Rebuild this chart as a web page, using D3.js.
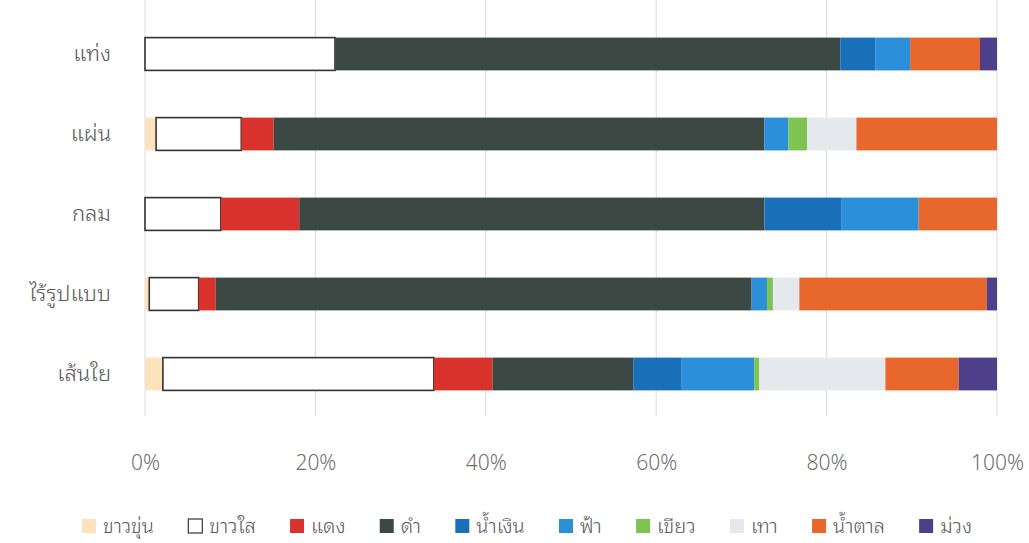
<!DOCTYPE html>
<html><head><meta charset="utf-8">
<script src="https://cdn.jsdelivr.net/npm/d3@7"></script>
<style>
body{margin:0;background:#fff;}
svg text{font-family:"Noto Sans Thai Looped","Noto Sans Thai","Noto Sans","DejaVu Sans",sans-serif;font-weight:300;}
</style></head>
<body><svg id="c" width="1029" height="543"></svg>
<script>
const categories = ["แท่ง","แผ่น","กลม","ไร้รูปแบบ","เส้นใย"];
const seriesNames = ["ขาวขุ่น","ขาวใส","แดง","ดำ","น้ำเงิน","ฟ้า","เขียว","เทา","น้ำตาล","ม่วง"];
const seriesColors = ["#fde3bd","#ffffff","#d9312b","#3c4843","#1a70b8","#2b8fd9","#7dc453","#e5e8ed","#e8672c","#4e3f8a"];
// values per series, in category order
const s_khaokhun = [0, 1.3, 0, 0.5, 2.1];
const s_khaosai  = [22.3, 10.0, 8.9, 5.8, 31.8];
const s_daeng    = [0, 3.8, 9.2, 2.0, 6.9];
const s_dam      = [59.3, 57.6, 54.6, 62.9, 16.5];
const s_namngoen = [4.1, 0, 9.0, 0, 5.7];
const s_fa       = [4.1, 2.8, 9.1, 1.8, 8.5];
const s_khiao    = [0, 2.2, 0, 0.7, 0.6];
const s_thao     = [0, 5.8, 0, 3.1, 14.8];
const s_namtan   = [8.2, 16.5, 9.2, 22.0, 8.6];
const s_muang    = [2.0, 0, 0, 1.2, 4.5];
const tickValues = [0, 0.2, 0.4, 0.6, 0.8, 1.0];
const tickLabels = ["0%","20%","40%","60%","80%","100%"];

const seriesValues = [s_khaokhun,s_khaosai,s_daeng,s_dam,s_namngoen,s_fa,s_khiao,s_thao,s_namtan,s_muang];
const rows = categories.map((c,i)=>{
  const o={cat:c}; seriesNames.forEach((s,j)=>o[s]=seriesValues[j][i]); return o;
});
const stacked = d3.stack().keys(seriesNames).offset(d3.stackOffsetExpand)(rows);

const svg = d3.select("#c");
const x = d3.scaleLinear().domain([0,1]).range([145,997]);
const y = d3.scaleBand().domain(categories).range([14,414]).paddingInner(0.59).paddingOuter(0.295);

// gridlines
svg.append("g").selectAll("line").data(tickValues).join("line")
  .attr("x1",d=>x(d)).attr("x2",d=>x(d)).attr("y1",0).attr("y2",416)
  .attr("stroke","#dcdcdc").attr("stroke-width",1);

// bars
const color = d3.scaleOrdinal().domain(seriesNames).range(seriesColors);
svg.append("g").selectAll("g").data(stacked).join("g")
  .attr("fill",d=>color(d.key))
  .attr("stroke",d=>d.key==="ขาวใส"?"#333":"none")
  .attr("stroke-width",1.6)
  .selectAll("rect").data(d=>d.filter(p=>p[1]-p[0]>0)).join("rect")
  .attr("x",d=>x(d[0])).attr("width",d=>x(d[1])-x(d[0]))
  .attr("y",d=>y(d.data.cat)).attr("height",y.bandwidth());

// x axis labels
const xa = d3.axisBottom(x).tickValues(tickValues).tickFormat((d,i)=>tickLabels[i]).tickSize(0).tickPadding(0);
const gx = svg.append("g").attr("transform","translate(0,455)").call(xa);
gx.select(".domain").remove();
gx.selectAll("text").attr("fill","#707070").attr("font-size",21).attr("dy","0.71em");

// y axis labels
const ya = d3.axisLeft(y).tickSize(0).tickPadding(0);
const gy = svg.append("g").attr("transform","translate(111,0)").call(ya);
gy.select(".domain").remove();
gy.selectAll("text").attr("fill","#5a5a5a").attr("font-size",22);

// legend
const lg = svg.append("g");
const items = [];
seriesNames.forEach((s,i)=>{
  const g = lg.append("g");
  g.append("rect").attr("x",0).attr("y",-7).attr("width",14).attr("height",14)
    .attr("fill",seriesColors[i]).attr("stroke",s==="ขาวใส"?"#333":"none").attr("stroke-width",1.2);
  const t = g.append("text").attr("x",21).attr("y",0).attr("dy","0.35em").attr("font-size",20).attr("fill","#5a5a5a").text(s);
  const w = 21 + t.node().getComputedTextLength();
  items.push({g,w});
});
let cx = 82;
const legGap = (972-82 - d3.sum(items,d=>d.w))/(items.length-1);
items.forEach(it=>{ it.g.attr("transform",`translate(${cx},526)`); cx += it.w + legGap; });
</script></body></html>
